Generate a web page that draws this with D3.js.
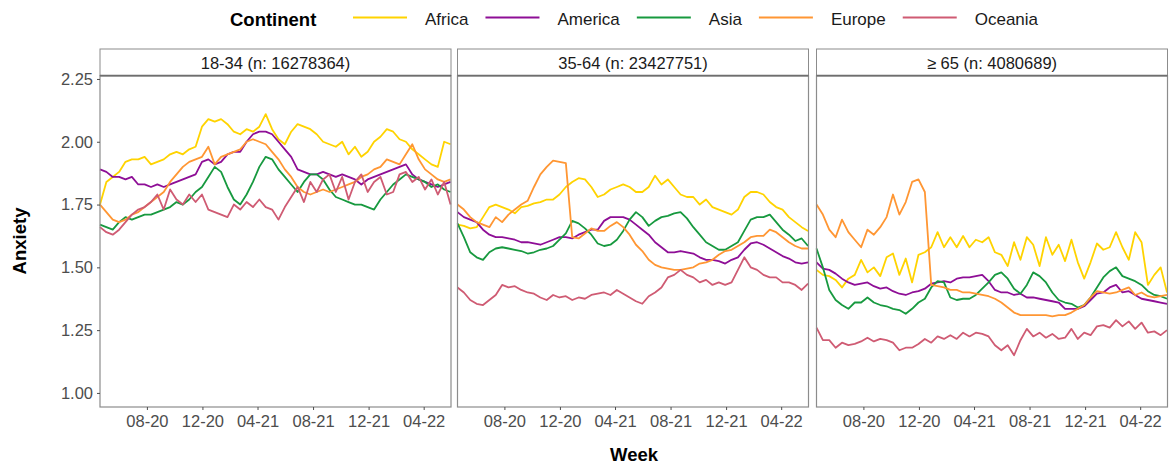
<!DOCTYPE html>
<html>
<head>
<meta charset="utf-8">
<script src="https://cdn.jsdelivr.net/npm/d3@7"></script>
<style>
  body { margin: 0; background: #fff; }
  text { font-family: "Liberation Sans", Arial, Helvetica, sans-serif; }
</style>
</head>
<body>
<div id="chart"></div>
<script>
// categories
const continents = ["Africa", "America", "Asia", "Europe", "Oceania"];
const colors = ["#FFD300", "#8E0E96", "#17993F", "#FF9633", "#CF5B73"];
const panelTitles = ["18-34 (n: 16278364)", "35-64 (n: 23427751)", "\u2265 65 (n: 4080689)"];
const yTicks = [1.00, 1.25, 1.50, 1.75, 2.00, 2.25];
const xTicks = ["2020-08-01", "2020-12-01", "2021-04-01", "2021-08-01", "2021-12-01", "2022-04-01"];

// one point every two weeks, 20 Apr 2020 - 30 May 2022
const weeks = d3.timeDay.range(new Date(2020, 3, 20), new Date(2022, 4, 31), 14);

// 18-34
const africa_young = [1.75,1.84,1.86,1.88,1.92,1.93,1.93,1.94, 1.91,1.92,1.93,1.95,1.96,1.95,1.97,1.98, 2.06,2.09,2.08,2.09,2.07,2.04,2.03,2.05, 2.04,2.06,2.11,2.05,2.01,1.99,2.04,2.07, 2.06,2.05,2.03,2.00,1.99,1.98,2.00,1.95, 1.98,1.94,1.96,2.00,2.02,2.05,2.04,2.01, 2.00,1.97,1.95,1.93,1.91,1.90,2.00,1.99];
const america_young = [1.89,1.88,1.86,1.86,1.85,1.86,1.83,1.83, 1.82,1.83,1.82,1.83,1.84,1.85,1.86,1.87, 1.92,1.93,1.91,1.92,1.95,1.96,1.96,2.00, 2.03,2.04,2.04,2.03,2.00,1.97,1.94,1.89, 1.88,1.87,1.87,1.88,1.87,1.86,1.87,1.86, 1.85,1.83,1.85,1.86,1.87,1.88,1.89,1.90, 1.91,1.87,1.85,1.84,1.83,1.82,1.83,1.84];
const asia_young = [1.67,1.66,1.65,1.68,1.70,1.69,1.70,1.71, 1.71,1.72,1.73,1.74,1.76,1.75,1.77,1.80, 1.82,1.86,1.90,1.88,1.82,1.77,1.75,1.79, 1.84,1.90,1.94,1.93,1.89,1.86,1.83,1.80, 1.84,1.87,1.87,1.85,1.81,1.78,1.77,1.76, 1.75,1.75,1.74,1.73,1.77,1.80,1.83,1.85, 1.87,1.86,1.85,1.84,1.82,1.83,1.81,1.80];
const europe_young = [1.75,1.72,1.69,1.68,1.69,1.71,1.72,1.74, 1.76,1.78,1.80,1.84,1.87,1.90,1.92,1.93, 1.94,1.98,1.91,1.94,1.95,1.96,1.97,2.00, 2.01,2.00,1.99,1.96,1.93,1.89,1.86,1.82, 1.80,1.79,1.80,1.81,1.80,1.81,1.82,1.83, 1.84,1.86,1.87,1.89,1.90,1.93,1.92,1.91, 1.95,1.99,1.93,1.89,1.87,1.85,1.84,1.85];
const oceania_young = [1.66,1.64,1.63,1.65,1.68,1.71,1.73,1.74, 1.76,1.79,1.73,1.81,1.77,1.75,1.79,1.76, 1.79,1.73,1.72,1.71,1.70,1.75,1.73,1.76, 1.74,1.77,1.74,1.73,1.69,1.74,1.78,1.82, 1.76,1.84,1.80,1.85,1.87,1.80,1.86,1.77, 1.84,1.87,1.80,1.84,1.86,1.79,1.80,1.87, 1.88,1.84,1.86,1.81,1.85,1.79,1.84,1.75];

// 35-64
const africa_mid = [1.67,1.665,1.655,1.66,1.70,1.74,1.75,1.74, 1.73,1.715,1.74,1.745,1.755,1.76,1.77,1.77, 1.79,1.82,1.84,1.855,1.85,1.82,1.78,1.79, 1.81,1.82,1.83,1.82,1.80,1.80,1.82,1.865, 1.83,1.85,1.82,1.79,1.78,1.78,1.75,1.77, 1.74,1.73,1.72,1.71,1.73,1.78,1.80,1.80, 1.79,1.76,1.74,1.73,1.70,1.68,1.66,1.645];
const america_mid = [1.72,1.70,1.69,1.68,1.65,1.63,1.62,1.62, 1.615,1.61,1.60,1.60,1.595,1.59,1.60,1.61, 1.62,1.62,1.615,1.63,1.64,1.65,1.65,1.685, 1.70,1.70,1.70,1.69,1.67,1.65,1.63,1.60, 1.58,1.56,1.56,1.565,1.56,1.555,1.54,1.53, 1.53,1.525,1.515,1.53,1.54,1.57,1.595,1.60, 1.59,1.575,1.56,1.545,1.535,1.52,1.515,1.52];
const asia_mid = [1.675,1.62,1.56,1.54,1.53,1.56,1.575,1.58, 1.575,1.57,1.565,1.555,1.56,1.57,1.575,1.585, 1.61,1.635,1.685,1.675,1.655,1.63,1.595,1.585, 1.59,1.61,1.645,1.69,1.72,1.70,1.665,1.685, 1.70,1.705,1.715,1.72,1.695,1.66,1.63,1.60, 1.585,1.57,1.57,1.585,1.60,1.645,1.69,1.70, 1.70,1.71,1.68,1.65,1.63,1.605,1.615,1.585];
const europe_mid = [1.75,1.73,1.70,1.68,1.67,1.66,1.70,1.68, 1.71,1.73,1.75,1.765,1.82,1.87,1.90,1.925, 1.92,1.915,1.62,1.615,1.635,1.655,1.645,1.645, 1.665,1.68,1.66,1.63,1.59,1.565,1.53,1.51, 1.50,1.495,1.49,1.49,1.495,1.50,1.515,1.52, 1.53,1.55,1.565,1.57,1.585,1.60,1.62,1.625, 1.625,1.65,1.64,1.62,1.60,1.585,1.575,1.575];
const oceania_mid = [1.42,1.40,1.37,1.355,1.35,1.37,1.39,1.43, 1.42,1.425,1.41,1.40,1.395,1.38,1.37,1.39, 1.38,1.385,1.37,1.38,1.375,1.39,1.395,1.40, 1.39,1.41,1.395,1.38,1.365,1.355,1.385,1.40, 1.42,1.46,1.47,1.49,1.47,1.46,1.44,1.45, 1.43,1.44,1.43,1.44,1.49,1.54,1.50,1.49, 1.47,1.46,1.46,1.44,1.44,1.43,1.41,1.435];

// >= 65
const africa_old = [1.49,1.47,1.465,1.45,1.42,1.455,1.47,1.53, 1.48,1.50,1.465,1.54,1.555,1.47,1.535,1.44, 1.55,1.56,1.58,1.64,1.58,1.62,1.58,1.625, 1.58,1.61,1.60,1.62,1.56,1.55,1.505,1.60, 1.53,1.62,1.59,1.505,1.62,1.55,1.59,1.525, 1.61,1.52,1.455,1.52,1.595,1.57,1.58,1.64, 1.58,1.53,1.64,1.60,1.43,1.47,1.50,1.40];
const america_old = [1.52,1.495,1.49,1.475,1.455,1.44,1.43,1.435, 1.44,1.425,1.415,1.42,1.405,1.395,1.39,1.40, 1.405,1.415,1.435,1.44,1.445,1.44,1.455,1.46, 1.46,1.465,1.47,1.445,1.41,1.40,1.40,1.39, 1.395,1.38,1.38,1.375,1.37,1.365,1.36,1.335, 1.335,1.335,1.345,1.37,1.395,1.40,1.42,1.43, 1.40,1.405,1.39,1.375,1.37,1.365,1.36,1.355];
const asia_old = [1.575,1.50,1.41,1.37,1.35,1.335,1.36,1.36, 1.38,1.36,1.35,1.345,1.335,1.33,1.315,1.335, 1.36,1.375,1.42,1.445,1.44,1.38,1.37,1.375, 1.375,1.39,1.415,1.44,1.47,1.48,1.455,1.415, 1.395,1.43,1.48,1.465,1.44,1.40,1.37,1.36, 1.355,1.34,1.35,1.38,1.42,1.46,1.485,1.50, 1.465,1.455,1.445,1.43,1.405,1.39,1.385,1.375];
const europe_old = [1.75,1.71,1.65,1.62,1.69,1.64,1.61,1.58, 1.65,1.63,1.66,1.70,1.79,1.71,1.76,1.84, 1.85,1.80,1.43,1.425,1.42,1.41,1.41,1.40, 1.40,1.395,1.39,1.385,1.375,1.36,1.34,1.32, 1.31,1.31,1.31,1.31,1.31,1.305,1.31,1.31, 1.32,1.335,1.35,1.38,1.405,1.40,1.395,1.40, 1.41,1.42,1.39,1.40,1.385,1.38,1.385,1.39];
const oceania_old = [1.26,1.21,1.21,1.18,1.20,1.19,1.195,1.205, 1.22,1.205,1.215,1.21,1.20,1.17,1.18,1.18, 1.195,1.215,1.20,1.225,1.215,1.23,1.215,1.24, 1.225,1.24,1.235,1.225,1.19,1.17,1.19,1.15, 1.21,1.255,1.225,1.24,1.22,1.235,1.215,1.22, 1.255,1.215,1.24,1.23,1.265,1.27,1.26,1.29, 1.265,1.285,1.255,1.28,1.24,1.245,1.23,1.25];

const panelSeries = [
  [africa_young, america_young, asia_young, europe_young, oceania_young],
  [africa_mid, america_mid, asia_mid, europe_mid, oceania_mid],
  [africa_old, america_old, asia_old, europe_old, oceania_old]
];

const width = 1169, height = 469;
const panelLeft = [100, 457.5, 816.5];
const panelW = 351;
const stripTop = 49, panelTop = 75.7, panelBottom = 407;

const svg = d3.select("#chart").append("svg")
  .attr("width", width).attr("height", height);

const x = d3.scaleTime()
  .domain([new Date(2020, 3, 20), new Date(2022, 4, 31)])
  .range([0, panelW]);
const y = d3.scaleLinear()
  .domain([0.944, 2.263])
  .range([panelBottom, panelTop]);
const color = d3.scaleOrdinal().domain(continents).range(colors);

const line = d3.line()
  .x(function (d) { return x(d.week) })
  .y(function (d) { return y(d.value) });

panelSeries.forEach(function (group, p) {
  const g = svg.append("g").attr("transform", "translate(" + panelLeft[p] + ",0)");

  // strip
  g.append("rect")
    .attr("x", 0).attr("y", stripTop)
    .attr("width", panelW).attr("height", panelTop - stripTop)
    .attr("fill", "#fff").attr("stroke", "#8c8c8c").attr("stroke-width", 1);
  g.append("text")
    .attr("x", panelW / 2).attr("y", 69)
    .attr("text-anchor", "middle")
    .attr("font-size", 16.5).attr("fill", "#1a1a1a")
    .text(panelTitles[p]);

  // lines
  group.forEach(function (vals, c) {
    const data = weeks.map(function (w, i) { return { week: w, value: vals[i] } });
    g.append("path")
      .attr("d", line(data))
      .attr("fill", "none")
      .attr("stroke", color(continents[c]))
      .attr("stroke-width", 1.8)
      .attr("stroke-linejoin", "round");
  });

  // panel border
  g.append("rect")
    .attr("x", 0).attr("y", panelTop)
    .attr("width", panelW).attr("height", panelBottom - panelTop)
    .attr("fill", "none").attr("stroke", "#8c8c8c").attr("stroke-width", 1.2);
  g.append("line")
    .attr("x1", 0).attr("x2", panelW).attr("y1", panelTop).attr("y2", panelTop)
    .attr("stroke", "#6e6e6e").attr("stroke-width", 1.8);

  // x axis
  const xa = g.append("g").attr("transform", "translate(0," + panelBottom + ")")
    .call(d3.axisBottom(x)
      .tickValues(xTicks.map(function (s) { return d3.timeParse("%Y-%m-%d")(s) }))
      .tickFormat(d3.timeFormat("%m-%y"))
      .tickSize(3).tickPadding(5));
  xa.select(".domain").remove();
  xa.selectAll(".tick line").attr("stroke", "#4d4d4d");
  xa.selectAll(".tick text").attr("font-size", 16.5).attr("fill", "#4d4d4d")
    .style("font-family", "Liberation Sans, Arial, sans-serif");

  if (p === 0) {
    const ya = g.append("g")
      .call(d3.axisLeft(y).tickValues(yTicks).tickFormat(d3.format(".2f"))
        .tickSize(3).tickPadding(4));
    ya.select(".domain").remove();
    ya.selectAll(".tick line").attr("stroke", "#4d4d4d");
    ya.selectAll(".tick text").attr("font-size", 16.5).attr("fill", "#4d4d4d")
      .style("font-family", "Liberation Sans, Arial, sans-serif");
  }
});

// axis titles
svg.append("text")
  .attr("transform", "translate(26,241) rotate(-90)")
  .attr("text-anchor", "middle")
  .attr("font-size", 18.5).attr("font-weight", "bold").attr("fill", "#000")
  .text("Anxiety");
svg.append("text")
  .attr("x", 634).attr("y", 461)
  .attr("text-anchor", "middle")
  .attr("font-size", 18.5).attr("font-weight", "bold").attr("fill", "#000")
  .text("Week");

// legend
const legend = svg.append("g");
legend.append("text")
  .attr("x", 230).attr("y", 26)
  .attr("font-size", 18.5).attr("font-weight", "bold").attr("fill", "#000")
  .text("Continent");
let lx = 353;
continents.forEach(function (c) {
  legend.append("line")
    .attr("x1", lx).attr("x2", lx + 54).attr("y1", 17.5).attr("y2", 17.5)
    .attr("stroke", color(c)).attr("stroke-width", 2);
  const t = legend.append("text")
    .attr("x", lx + 72).attr("y", 25)
    .attr("font-size", 17).attr("fill", "#1a1a1a")
    .text(c);
  lx = lx + 72 + t.node().getComputedTextLength() + 17;
});
</script>
</body>
</html>
